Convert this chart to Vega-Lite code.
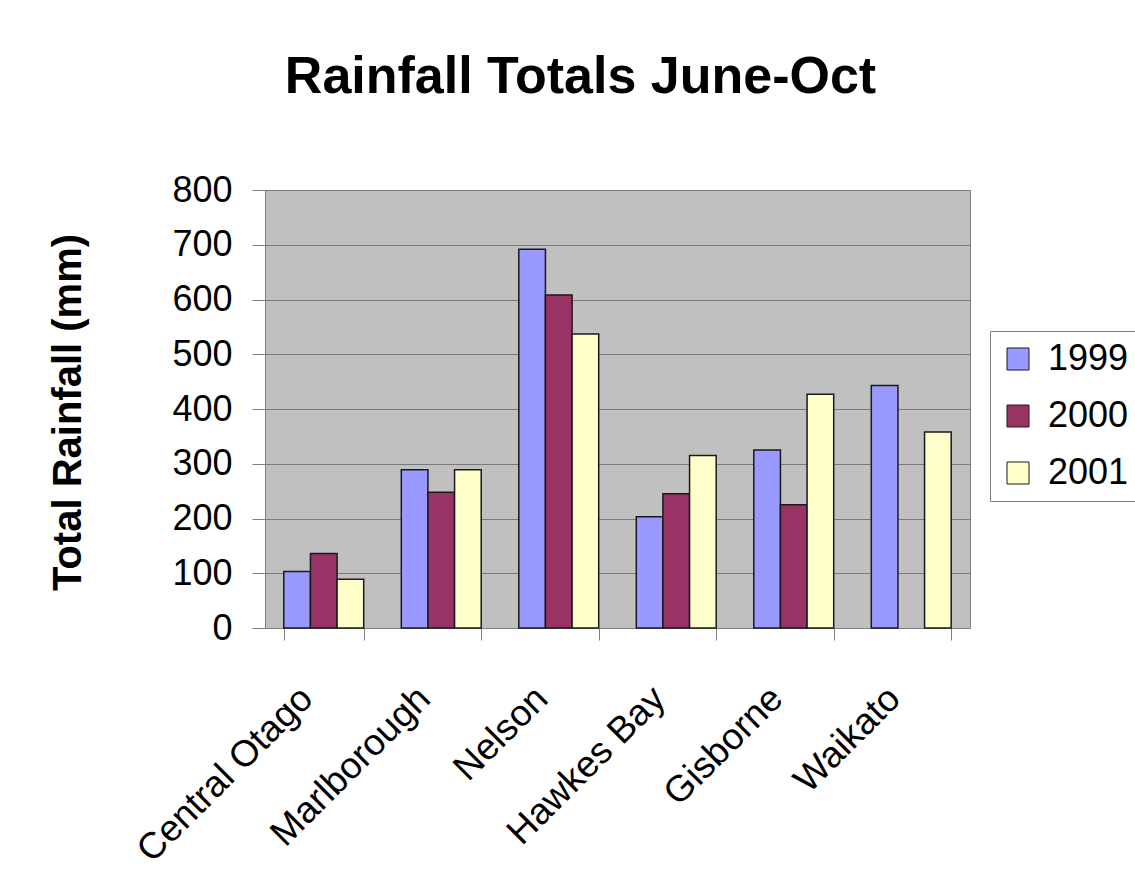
{
  "$schema": "https://vega.github.io/schema/vega-lite/v6.json",
  "width": 705,
  "height": 438,
  "autosize": {"type": "none"},
  "padding": {"left": 265, "top": 190, "right": 165, "bottom": 265},
  "background": "white",
  "title": {
    "text": "Rainfall Totals June-Oct",
    "font": "Liberation Sans",
    "fontSize": 52,
    "fontWeight": "bold",
    "color": "black",
    "anchor": "middle",
    "dx": -37,
    "offset": 68,
    "frame": "group"
  },
  "data": {
    "values": [
      {"region": "Central Otago", "year": "1999", "rain": 103},
      {"region": "Central Otago", "year": "2000", "rain": 136},
      {"region": "Central Otago", "year": "2001", "rain": 89},
      {"region": "Marlborough", "year": "1999", "rain": 289},
      {"region": "Marlborough", "year": "2000", "rain": 248},
      {"region": "Marlborough", "year": "2001", "rain": 289},
      {"region": "Nelson", "year": "1999", "rain": 692},
      {"region": "Nelson", "year": "2000", "rain": 608},
      {"region": "Nelson", "year": "2001", "rain": 537},
      {"region": "Hawkes Bay", "year": "1999", "rain": 203},
      {"region": "Hawkes Bay", "year": "2000", "rain": 245},
      {"region": "Hawkes Bay", "year": "2001", "rain": 315},
      {"region": "Gisborne", "year": "1999", "rain": 325},
      {"region": "Gisborne", "year": "2000", "rain": 225},
      {"region": "Gisborne", "year": "2001", "rain": 427},
      {"region": "Waikato", "year": "1999", "rain": 443},
      {"region": "Waikato", "year": "2001", "rain": 358}
    ]
  },
  "mark": {"type": "bar", "stroke": "#1a1a1a", "strokeWidth": 1.5},
  "encoding": {
    "x": {
      "field": "region",
      "type": "nominal",
      "sort": ["Central Otago", "Marlborough", "Nelson", "Hawkes Bay", "Gisborne", "Waikato"],
      "scale": {"paddingInner": 0.32, "paddingOuter": 0.16},
      "axis": {
        "title": null,
        "labelAngle": -45,
        "labelFontSize": 37,
        "labelFont": "Liberation Sans",
        "labelColor": "black",
        "labelPadding": 40,
        "labelOffset": -30,
        "labelLimit": 0,
        "labelOverlap": false,
        "tickBand": "extent",
        "tickSize": 12,
        "tickColor": "#808080",
        "domainColor": "#808080",
        "grid": false
      }
    },
    "xOffset": {"field": "year", "type": "nominal", "sort": ["1999", "2000", "2001"]},
    "y": {
      "field": "rain",
      "type": "quantitative",
      "scale": {"domain": [0, 800], "nice": false},
      "axis": {
        "title": "Total Rainfall (mm)",
        "titleFont": "Liberation Sans",
        "titleFontSize": 40,
        "titleFontWeight": "bold",
        "titleColor": "black",
        "titleX": -197,
        "titleY": 222,
        "titleAngle": 270,
        "titleAlign": "center",
        "titleBaseline": "middle",
        "values": [0, 100, 200, 300, 400, 500, 600, 700, 800],
        "labelFontSize": 36,
        "labelFont": "Liberation Sans",
        "labelColor": "black",
        "labelPadding": 20,
        "tickSize": 13,
        "tickColor": "#808080",
        "domainColor": "#808080",
        "grid": true,
        "gridColor": "#7a7a7a",
        "gridWidth": 1
      }
    },
    "color": {
      "field": "year",
      "type": "nominal",
      "scale": {"domain": ["1999", "2000", "2001"], "range": ["#9999FF", "#993366", "#FFFFCC"]},
      "legend": {
        "title": null,
        "orient": "none",
        "legendX": 725,
        "legendY": 141,
        "strokeColor": "#808080",
        "padding": 10,
        "symbolType": "square",
        "symbolSize": 484,
        "symbolStrokeColor": "#1a1a1a",
        "symbolStrokeWidth": 1,
        "symbolOpacity": 1,
        "labelFontSize": 36,
        "labelFont": "Liberation Sans",
        "labelColor": "black",
        "labelOffset": 12,
        "labelLimit": 0,
        "rowPadding": 21
      }
    }
  },
  "config": {
    "view": {"fill": "#C0C0C0", "stroke": "#808080"}
  }
}
